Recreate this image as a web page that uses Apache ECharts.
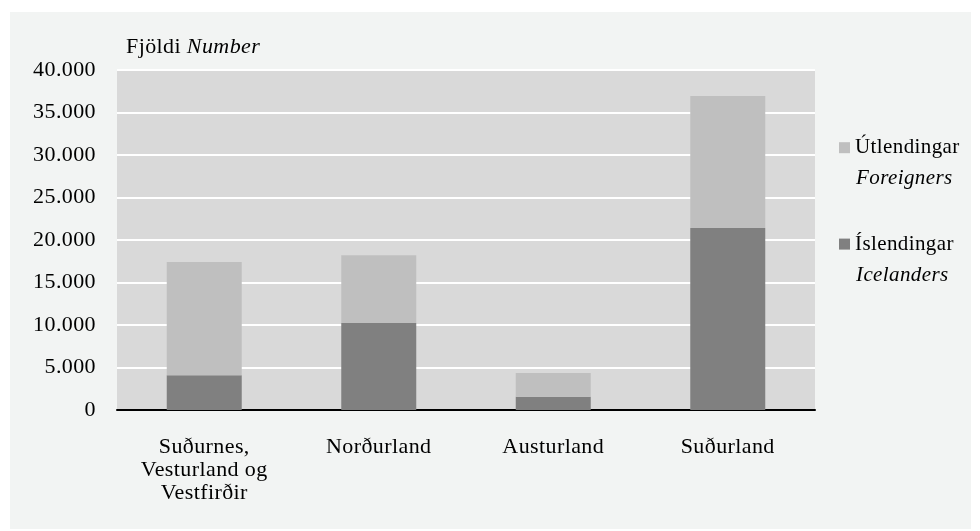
<!DOCTYPE html>
<html>
<head>
<meta charset="utf-8">
<script src="https://cdn.jsdelivr.net/npm/echarts@6/dist/echarts.min.js"></script>
<style>html,body{margin:0;padding:0;background:#fff;}#c{width:980px;height:531px;}</style>
</head>
<body>
<div id="c"></div>
<script>
// slight letter spacing to mimic the reference typography
(function () {
  try {
    var proto = CanvasRenderingContext2D.prototype;
    var desc = Object.getOwnPropertyDescriptor(proto, 'font');
    if (desc && desc.set && ('letterSpacing' in proto)) {
      Object.defineProperty(proto, 'font', {
        configurable: true,
        get: function () { return desc.get.call(this); },
        set: function (v) { desc.set.call(this, v); try { this.letterSpacing = '0.4px'; } catch (e) {} }
      });
    }
  } catch (e) {}
})();

var categories = ['Suðurnes,\nVesturland og\nVestfirðir', 'Norðurland', 'Austurland', 'Suðurland'];
var icelanders = [4100, 10250, 1550, 21400];
var foreigners = [13300, 7950, 2800, 15550];
var yTicks = [0, 5000, 10000, 15000, 20000, 25000, 30000, 35000, 40000];

var FONT = "'Liberation Serif', 'Times New Roman', serif";
var FS = 22;
var LFS = 21;
var chart = echarts.init(document.getElementById('c'), null, {renderer: 'canvas'});

function fmt(v) {
  return String(v).replace(/\B(?=(\d{3})+(?!\d))/g, '.');
}

var option = {
  backgroundColor: '#ffffff',
  animation: false,
  graphic: [{
    type: 'rect', z: -10, silent: true,
    shape: {x: 10, y: 12, width: 961, height: 517},
    style: {fill: '#f2f4f3'}
  }],
  textStyle: {fontFamily: FONT},
  grid: {
    left: 117, right: 165, top: 70, bottom: 121,
    show: true, backgroundColor: '#d9d9d9', borderWidth: 0
  },
  legend: {
    orient: 'vertical',
    left: 834, top: 101,
    itemWidth: 11, itemHeight: 11, itemGap: 13,
    icon: 'rect',
    selectedMode: false,
    data: ['Útlendingar', 'Íslendingar'],
    formatter: function (name) {
      var en = name === 'Útlendingar' ? 'Foreigners' : 'Icelanders';
      return '{e| }\n{a|' + name + '}\n{b|' + en + '}';
    },
    textStyle: {
      fontFamily: FONT, color: '#000',
      rich: {
        e: {fontSize: LFS, lineHeight: 31, fontFamily: FONT},
        a: {fontSize: LFS, lineHeight: 31, fontFamily: FONT, color: '#000'},
        b: {fontSize: LFS, lineHeight: 31, fontFamily: FONT, fontStyle: 'italic', color: '#000', padding: [0, 0, 0, 1]}
      }
    },
    itemStyle: {borderWidth: 0}
  },
  xAxis: {
    type: 'category',
    data: categories,
    axisLine: {show: true, lineStyle: {color: '#000', width: 2}},
    axisTick: {show: false},
    axisLabel: {
      color: '#000', fontSize: FS, fontFamily: FONT,
      lineHeight: 23, margin: 26, interval: 0
    }
  },
  yAxis: {
    type: 'value',
    min: 0, max: 40000, interval: 5000,
    name: '{a|Fjöldi} {b|Number}',
    nameLocation: 'end',
    nameGap: 12,
    nameTextStyle: {
      align: 'left', verticalAlign: 'bottom', padding: [0, 0, 0, 9],
      fontFamily: FONT, fontSize: FS, color: '#000',
      rich: {
        a: {fontFamily: FONT, fontSize: FS, color: '#000'},
        b: {fontFamily: FONT, fontSize: FS, fontStyle: 'italic', color: '#000'}
      }
    },
    axisLine: {show: false},
    axisTick: {show: false},
    splitLine: {show: true, lineStyle: {color: '#ffffff', width: 2}},
    axisLabel: {
      color: '#000', fontSize: FS, fontFamily: FONT, margin: 21,
      formatter: function (v) { return yTicks.indexOf(v) >= 0 ? fmt(v) : ''; }
    }
  },
  series: [
    {
      name: 'Íslendingar', type: 'bar', stack: 'total',
      data: icelanders, barWidth: 75,
      itemStyle: {color: '#808080'}
    },
    {
      name: 'Útlendingar', type: 'bar', stack: 'total',
      data: foreigners, barWidth: 75,
      itemStyle: {color: '#bfbfbf'}
    }
  ]
};
chart.setOption(option);
</script>
</body>
</html>
